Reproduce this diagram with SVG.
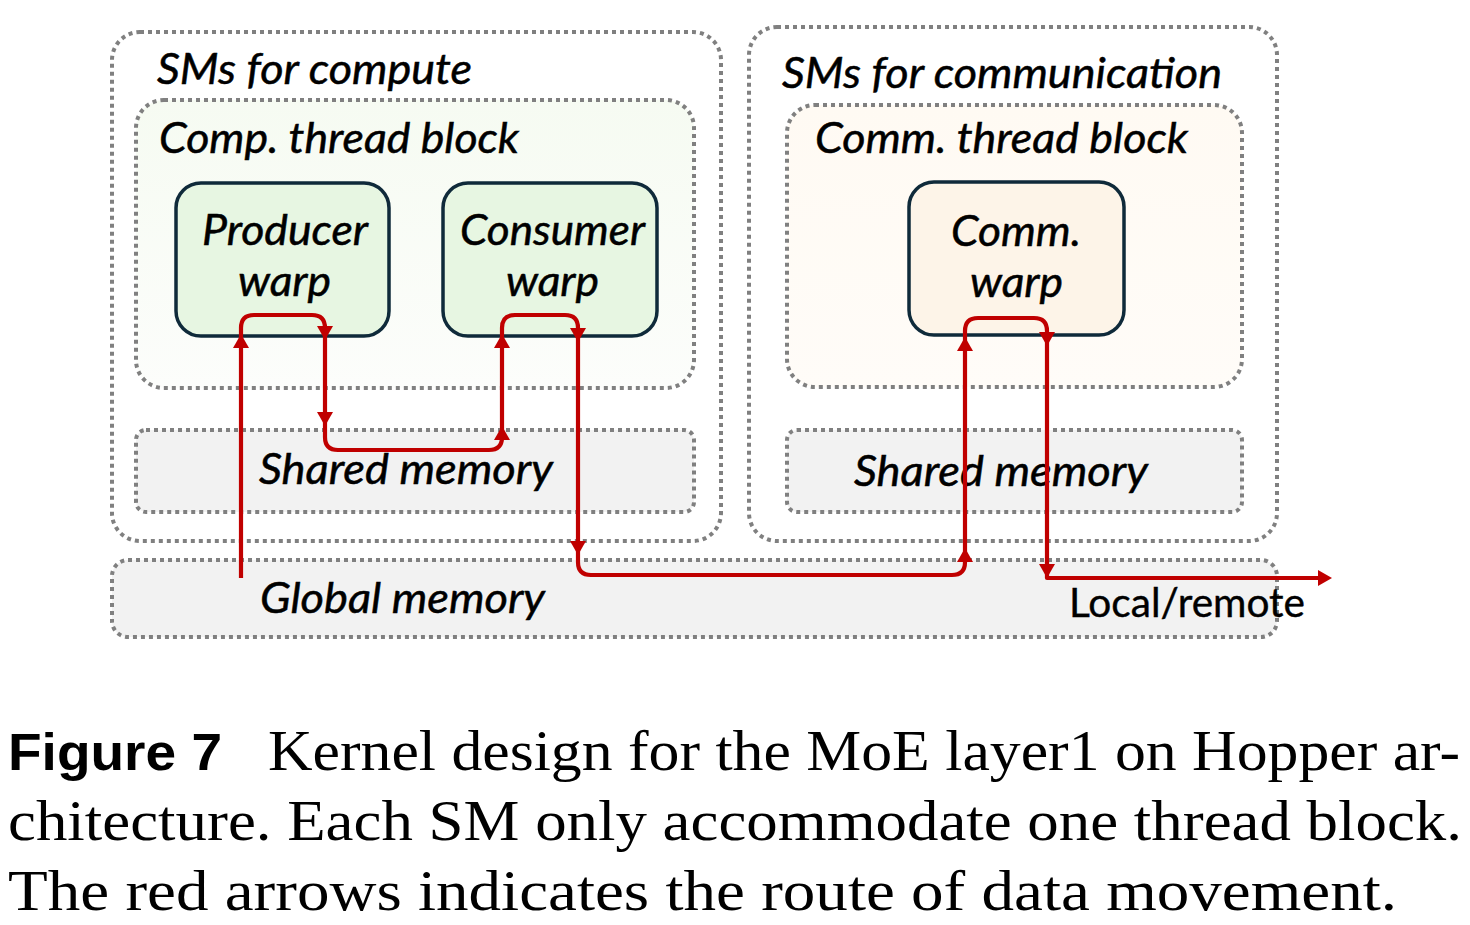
<svg xmlns="http://www.w3.org/2000/svg" xmlns:xlink="http://www.w3.org/1999/xlink" width="1470" height="925" viewBox="0 0 1470 925">
<defs>
<style>
.dot{fill:none;stroke:#808080;stroke-width:4;stroke-dasharray:4 4}
.mem{fill:#f2f2f2;stroke:#808080;stroke-width:4;stroke-dasharray:4 4}
.warp{stroke:#0f2a3a;stroke-width:3.5}
.lbl{font-family:Lato,"Liberation Sans",sans-serif;font-style:italic;font-size:42px;fill:#000;stroke:#000;stroke-width:0.5}
.up{font-family:Lato,"Liberation Sans",sans-serif;font-size:40px;fill:#000;stroke:#000;stroke-width:0.4}
.cap{font-family:"Liberation Serif",serif;font-size:56px;fill:#000}
.capb{font-family:"Liberation Sans",sans-serif;font-weight:bold;font-size:52px;fill:#000}
.route{fill:none;stroke:#c00000;stroke-width:4.2;stroke-linejoin:round}
.ah{fill:#c00000}
</style>
<linearGradient id="gComp" x1="0" y1="0" x2="0" y2="1">
<stop offset="0" stop-color="#f6fbf2"/>
<stop offset="1" stop-color="#fcfdfb"/>
</linearGradient>
<linearGradient id="gComm" x1="0" y1="0" x2="0" y2="1">
<stop offset="0" stop-color="#fffaf3"/>
<stop offset="1" stop-color="#fffcf8"/>
</linearGradient>
<path id="ah" d="M0,0 L-14,-8 L-14,8 Z"/>
</defs>
<rect width="1470" height="925" fill="#ffffff"/>

<g id="global-memory">
<rect class="mem" x="112" y="560" width="1165" height="77" rx="16"/>
<text class="lbl" x="260" y="613" textLength="285" lengthAdjust="spacingAndGlyphs">Global memory</text>
</g>

<g id="sms-compute">
<rect class="dot" x="112" y="32" width="609" height="509" rx="28"/>
<text class="lbl" x="157" y="84" textLength="315" lengthAdjust="spacingAndGlyphs">SMs for compute</text>
</g>
<g id="comp-thread-block">
<rect class="dot" x="136" y="100" width="558" height="288" rx="28" style="fill:url(#gComp)"/>
<text class="lbl" x="159" y="153" textLength="360" lengthAdjust="spacingAndGlyphs">Comp. thread block</text>
</g>
<g id="producer-warp">
<rect class="warp" x="176" y="183" width="213" height="153" rx="25" fill="#e7f6e2"/>
<text class="lbl" x="202" y="245" textLength="166" lengthAdjust="spacingAndGlyphs">Producer</text>
<text class="lbl" x="238" y="296" textLength="93" lengthAdjust="spacingAndGlyphs">warp</text>
</g>
<g id="consumer-warp">
<rect class="warp" x="443" y="183" width="214" height="153" rx="25" fill="#e7f6e2"/>
<text class="lbl" x="460" y="245" textLength="185" lengthAdjust="spacingAndGlyphs">Consumer</text>
<text class="lbl" x="506" y="296" textLength="93" lengthAdjust="spacingAndGlyphs">warp</text>
</g>
<g id="shared-memory-compute">
<rect class="mem" x="136" y="430" width="558" height="82" rx="10"/>
<text class="lbl" x="259" y="484" textLength="294" lengthAdjust="spacingAndGlyphs">Shared memory</text>
</g>

<g id="sms-communication">
<rect class="dot" x="749" y="27" width="528" height="514" rx="28"/>
<text class="lbl" x="782" y="88" textLength="440" lengthAdjust="spacingAndGlyphs">SMs for communication</text>
</g>
<g id="comm-thread-block">
<rect class="dot" x="787" y="105" width="455" height="282" rx="28" style="fill:url(#gComm)"/>
<text class="lbl" x="815" y="153" textLength="373" lengthAdjust="spacingAndGlyphs">Comm. thread block</text>
</g>
<g id="comm-warp">
<rect class="warp" x="909" y="182" width="215" height="153" rx="25" fill="#fdf4e8"/>
<text class="lbl" x="951" y="246" textLength="130" lengthAdjust="spacingAndGlyphs">Comm.</text>
<text class="lbl" x="970" y="297" textLength="93" lengthAdjust="spacingAndGlyphs">warp</text>
</g>
<g id="shared-memory-comm">
<rect class="mem" x="787" y="430" width="455" height="82" rx="10"/>
<text class="lbl" x="854" y="486" textLength="294" lengthAdjust="spacingAndGlyphs">Shared memory</text>
</g>

<g id="connectors">
<path class="route" d="M241,578 V328 Q241,315 254,315 H312 Q325,315 325,328 V437 Q325,450 338,450 H489 Q502,450 502,437 V328 Q502,315 515,315 H565 Q578,315 578,328 V562 Q578,575 591,575 H952 Q965,575 965,562 V331 Q965,318 978,318 H1034 Q1047,318 1047,331 V578 H1320"/>
<use xlink:href="#ah" class="ah" transform="translate(241,334) rotate(-90)"/>
<use xlink:href="#ah" class="ah" transform="translate(325,340) rotate(90)"/>
<use xlink:href="#ah" class="ah" transform="translate(325,426) rotate(90)"/>
<use xlink:href="#ah" class="ah" transform="translate(502,426) rotate(-90)"/>
<use xlink:href="#ah" class="ah" transform="translate(502,334) rotate(-90)"/>
<use xlink:href="#ah" class="ah" transform="translate(578,342) rotate(90)"/>
<use xlink:href="#ah" class="ah" transform="translate(578,555) rotate(90)"/>
<use xlink:href="#ah" class="ah" transform="translate(965,548) rotate(-90)"/>
<use xlink:href="#ah" class="ah" transform="translate(965,337) rotate(-90)"/>
<use xlink:href="#ah" class="ah" transform="translate(1047,346) rotate(90)"/>
<use xlink:href="#ah" class="ah" transform="translate(1047,578) rotate(90)"/>
<use xlink:href="#ah" class="ah" transform="translate(1332,578)"/>
<text class="up" x="1069" y="617" textLength="236" lengthAdjust="spacingAndGlyphs">Local/remote</text>
</g>

<g id="caption">
<text class="capb" x="8" y="770" textLength="214" lengthAdjust="spacingAndGlyphs">Figure 7</text>
<text class="cap" x="268" y="770" textLength="1192" lengthAdjust="spacingAndGlyphs">Kernel design for the MoE layer1 on Hopper ar-</text>
<text class="cap" x="8" y="840" textLength="1454" lengthAdjust="spacingAndGlyphs">chitecture.  Each SM only accommodate one thread block.</text>
<text class="cap" x="8" y="910" textLength="1389" lengthAdjust="spacingAndGlyphs">The red arrows indicates the route of data movement.</text>
</g>
</svg>
